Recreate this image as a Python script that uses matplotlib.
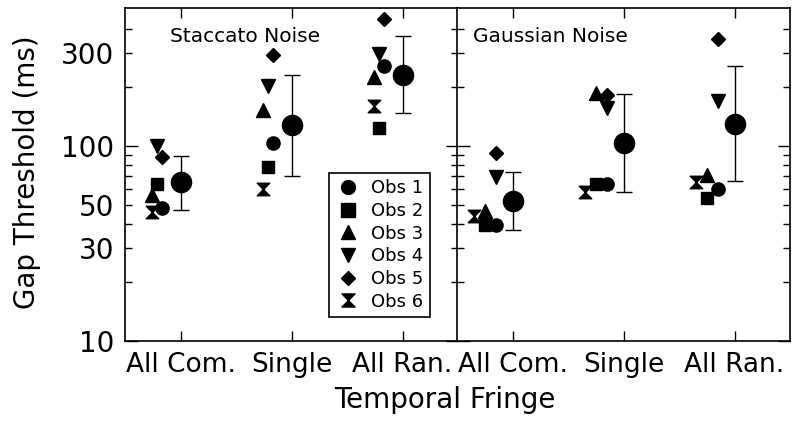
import numpy as np
import matplotlib
matplotlib.use('Agg')
import matplotlib.pyplot as plt
from matplotlib.path import Path
from matplotlib.ticker import FixedLocator, FuncFormatter, NullFormatter

# Dane (ms)
fringes = ['All Com.', 'Single', 'All Ran.']
observers = ['Obs 1', 'Obs 2', 'Obs 3', 'Obs 4', 'Obs 5', 'Obs 6']

# Staccato noise: wiersze = obserwatorzy, kolumny = warunki
staccato_obs = [
    [48, 103, 258],
    [64, 78, 123],
    [56, 153, 226],
    [100, 204, 298],
    [88, 293, 448],
    [46, 60, 160],
]
staccato_mean = [65, 128, 231]
staccato_hi = [89, 231, 367]
staccato_lo = [47, 70, 147]

# Gaussian noise
gauss_obs = [
    [39.5, 63.7, 60],
    [39.5, 63.7, 54],
    [46.4, 186, 71],
    [69.6, 157, 170],
    [91.7, 183, 354],
    [44, 58.3, 65.6],
]
gauss_mean = [52.2, 103, 130]
gauss_hi = [73.8, 184, 258]
gauss_lo = [37.1, 58.3, 66.1]

# Markery (klepsydra jako własna ścieżka)
hourglass = Path([(-1, 1), (1, 1), (-1, -1), (1, -1), (-1, 1)],
                 [Path.MOVETO, Path.LINETO, Path.LINETO, Path.LINETO, Path.CLOSEPOLY])
markers = ['o', 's', '^', 'v', 'D', hourglass]
msizes = [9.5, 9, 10, 10, 7, 9]

# przesunięcia punktów poszczególnych obserwatorów względem środka kategorii
offsets_left = [-0.165, -0.21, -0.26, -0.21, -0.165, -0.26]
offsets_right = [-0.15, -0.245, -0.245, -0.15, -0.15, -0.345]

plt.rcParams['font.family'] = 'DejaVu Sans'

fig = plt.figure(figsize=(8, 4.25), dpi=100)
ax1 = fig.add_axes([125 / 800, 1 - 341 / 425, 333 / 800, 333 / 425])
ax2 = fig.add_axes([457 / 800, 1 - 341 / 425, 333 / 800, 333 / 425])

x = np.arange(1, len(fringes) + 1)


def minor_label(v, pos):
    if int(round(v)) in (30, 50, 300):
        return f'{int(round(v))}'
    return ''


def draw_panel(ax, obs, mean, lo, hi, offsets, title, show_labels):
    for i in range(len(observers)):
        ax.plot(x + offsets[i], obs[i], linestyle='none', marker=markers[i],
                markersize=msizes[i], color='black', label=observers[i])
    mean = np.array(mean)
    yerr = [mean - np.array(lo), np.array(hi) - mean]
    ax.errorbar(x, mean, yerr=yerr, fmt='o', color='black', markersize=14.5,
                elinewidth=1.0, capsize=5.5, capthick=1.0)
    ax.set_yscale('log')
    ax.set_ylim(10, 510)
    ax.set_xlim(0.5, 3.5)
    ax.set_xticks(x)
    ax.set_xticklabels(fringes)
    ax.yaxis.set_major_locator(FixedLocator([10, 100]))
    ax.yaxis.set_minor_locator(FixedLocator([20, 30, 40, 50, 60, 70, 80, 90,
                                             200, 300, 400]))
    if show_labels:
        ax.yaxis.set_major_formatter(FuncFormatter(lambda v, p: f'{int(round(v))}'))
        ax.yaxis.set_minor_formatter(FuncFormatter(minor_label))
    else:
        ax.yaxis.set_major_formatter(NullFormatter())
        ax.yaxis.set_minor_formatter(NullFormatter())
    ax.tick_params(axis='y', which='major', direction='in', length=9, width=1,
                   left=True, right=True, labelsize=20, pad=8)
    ax.tick_params(axis='y', which='minor', direction='in', length=5, width=1,
                   left=True, right=True, labelsize=20, pad=8)
    ax.tick_params(axis='x', which='major', direction='in', length=7, width=1,
                   top=True, bottom=True, labelsize=19, pad=8)
    ax.tick_params(axis='x', which='minor', bottom=False, top=False)
    for s in ax.spines.values():
        s.set_linewidth(1.2)
    ax.text(0.135 if show_labels else 0.048, 0.913, title, transform=ax.transAxes,
            fontsize=14.5, va='center', ha='left')


draw_panel(ax1, staccato_obs, staccato_mean, staccato_lo, staccato_hi,
           offsets_left, 'Staccato Noise', True)
draw_panel(ax2, gauss_obs, gauss_mean, gauss_lo, gauss_hi,
           offsets_right, 'Gaussian Noise', False)

leg = ax1.legend(loc='lower right', bbox_to_anchor=(0.915, 0.072), fontsize=13,
                 frameon=True, fancybox=False, edgecolor='black', framealpha=1,
                 handlelength=1.4, handletextpad=0.6, labelspacing=0.26,
                 borderpad=0.35, borderaxespad=0, markerscale=1.05)
leg.get_frame().set_linewidth(1.2)

fig.text(27 / 800, 1 - 172 / 425, 'Gap Threshold (ms)', rotation=90,
         fontsize=20, ha='center', va='center')
fig.text(445 / 800, 1 - 400 / 425, 'Temporal Fringe', fontsize=20,
         ha='center', va='center')

fig.savefig('out.png', dpi=100)
